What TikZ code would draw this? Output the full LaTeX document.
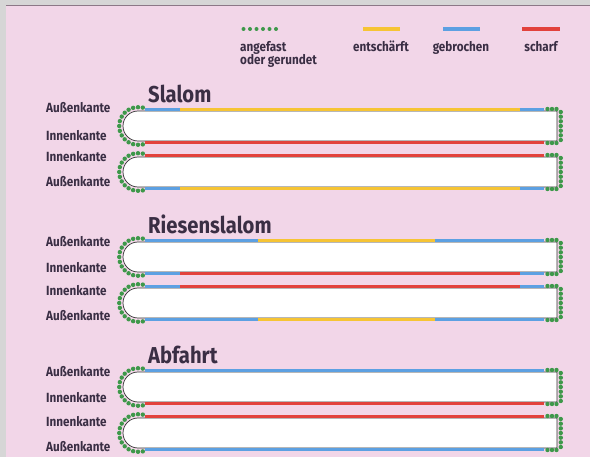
\documentclass[tikz,border=0pt]{standalone}
\usepackage{fontspec}
\setmainfont{Fira Sans}[FakeStretch=0.88]
\definecolor{bgpink}{RGB}{242,214,232}
\definecolor{bggray}{RGB}{214,214,214}
\definecolor{topline}{RGB}{140,120,135}
\definecolor{kblue}{RGB}{92,160,226}
\definecolor{kyellow}{RGB}{246,196,52}
\definecolor{kred}{RGB}{226,66,60}
\definecolor{kgreen}{RGB}{62,152,74}
\definecolor{txt}{RGB}{58,46,68}
\tikzset{
  lbl/.style={anchor=base west, font=\bfseries\fontsize{13.3}{15}\selectfont, text=txt, inner sep=0pt},
  leg/.style={anchor=base, font=\bfseries\fontsize{13.3}{15}\selectfont, text=txt, inner sep=0pt},
  ttl/.style={anchor=base west, font=\bfseries\fontsize{23}{26}\selectfont, text=txt, inner sep=0pt},
  eb/.style={draw=kblue, line width=2.6pt},
  ey/.style={draw=kyellow, line width=2.6pt},
  er/.style={draw=kred, line width=2.6pt},
  legbar/.style={line width=4.5pt},
  gdot/.style={fill=kgreen},
  boardshape/.style={draw=black!80, line width=0.7pt, fill=white}
}
\newcommand{\skiboard}[1]{%
  \path[boardshape] (557,#1) -- (138,#1) arc[start angle=90, end angle=270, radius=15pt] -- (557,#1+30) -- cycle;
  \foreach \a in {90,105,...,270} \fill[gdot, shift={(138,#1+15)}] (\a:18.8pt) circle[radius=2.2pt];
  \fill[gdot] (142.8,#1-3.4) circle[radius=2.2pt] (142.8,#1+33.4) circle[radius=2.2pt];
  \foreach \xx in {547.5,552,556.5} {\fill[gdot] (\xx,#1-2) circle[radius=2.2pt] (\xx,#1+32) circle[radius=2.2pt];}
  \foreach \k in {0,...,6} \fill[gdot] (560.8,#1+1+\k*4.67) circle[radius=2.2pt];
}
\begin{document}
\begin{tikzpicture}[x=1pt,y=-1pt]
\useasboundingbox (0,0) rectangle (590,457);
\fill[bggray] (0,0) rectangle (590,457);
\fill[bgpink] (6,6) rectangle (590,457);
\draw[topline, line width=1.2pt] (6,5.6) -- (590,5.6);

% legend
\foreach \xx in {243.5,250,256.5,263,269.5,276} \fill[gdot] (\xx,29) circle[radius=2pt];
\draw[legbar, kyellow] (363,29) -- (400,29);
\draw[legbar, kblue] (443,29) -- (480,29);
\draw[legbar, kred] (522,29) -- (560,29);
\node[lbl] (l1) at (240,52) {angefast};
\node[lbl] (l1b) at (240,65) {oder gerundet};
\node[leg] (l2) at (381,52) {entschärft};
\node[leg] (l3) at (461,52) {gebrochen};
\node[leg] (l4) at (541,52) {scharf};

% Slalom
\def\ya{111}
\node[ttl] (t1) at (148,\ya-8) {Slalom};
\node[lbl] (s1) at (46,\ya+2) {Außenkante};
\node[lbl] (s2) at (46,\ya+30) {Innenkante};
\node[lbl] (s3) at (46,\ya+51) {Innenkante};
\node[lbl] (s4) at (46,\ya+76) {Außenkante};
\skiboard{\ya}
\skiboard{\ya+46}
\draw[eb] (145,\ya-1.3) -- (180,\ya-1.3);
\draw[ey] (180,\ya-1.3) -- (520,\ya-1.3);
\draw[eb] (520,\ya-1.3) -- (544,\ya-1.3);
\draw[er] (145,\ya+31.3) -- (544,\ya+31.3);
\draw[er] (145,\ya+44.7) -- (544,\ya+44.7);
\draw[eb] (145,\ya+77.3) -- (180,\ya+77.3);
\draw[ey] (180,\ya+77.3) -- (520,\ya+77.3);
\draw[eb] (520,\ya+77.3) -- (544,\ya+77.3);

% Riesenslalom
\def\yb{242}
\node[ttl] (t2) at (148,\yb-8) {Riesenslalom};
\node[lbl] (r1) at (46,\yb+5) {Außenkante};
\node[lbl] (r2) at (46,\yb+31) {Innenkante};
\node[lbl] (r3) at (46,\yb+54) {Innenkante};
\node[lbl] (r4) at (46,\yb+79) {Außenkante};
\skiboard{\yb}
\skiboard{\yb+46}
\draw[eb] (145,\yb-1.3) -- (258,\yb-1.3);
\draw[ey] (258,\yb-1.3) -- (435,\yb-1.3);
\draw[eb] (435,\yb-1.3) -- (544,\yb-1.3);
\draw[eb] (145,\yb+31.3) -- (180,\yb+31.3);
\draw[er] (180,\yb+31.3) -- (520,\yb+31.3);
\draw[eb] (520,\yb+31.3) -- (544,\yb+31.3);
\draw[eb] (145,\yb+44.7) -- (180,\yb+44.7);
\draw[er] (180,\yb+44.7) -- (520,\yb+44.7);
\draw[eb] (520,\yb+44.7) -- (544,\yb+44.7);
\draw[eb] (145,\yb+77.3) -- (258,\yb+77.3);
\draw[ey] (258,\yb+77.3) -- (435,\yb+77.3);
\draw[eb] (435,\yb+77.3) -- (544,\yb+77.3);

% Abfahrt
\def\yc{372}
\node[ttl] (t3) at (148,\yc-8) {Abfahrt};
\node[lbl] (a1) at (46,\yc+5) {Außenkante};
\node[lbl] (a2) at (46,\yc+31) {Innenkante};
\node[lbl] (a3) at (46,\yc+55) {Innenkante};
\node[lbl] (a4) at (46,\yc+80) {Außenkante};
\skiboard{\yc}
\skiboard{\yc+46}
\draw[eb] (145,\yc-1.3) -- (544,\yc-1.3);
\draw[er] (145,\yc+31.3) -- (544,\yc+31.3);
\draw[er] (145,\yc+44.7) -- (544,\yc+44.7);
\draw[eb] (145,\yc+77.3) -- (544,\yc+77.3);
\end{tikzpicture}
\end{document}
